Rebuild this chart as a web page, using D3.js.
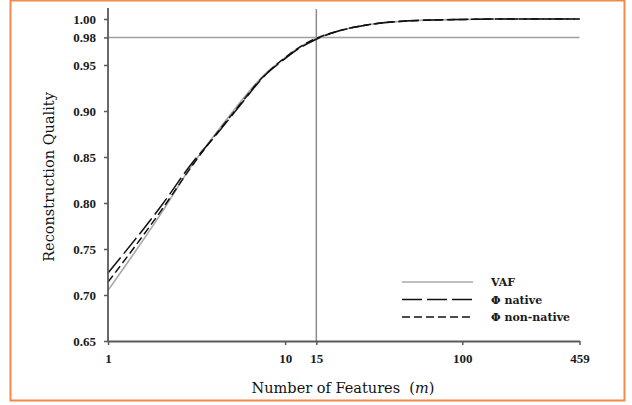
<!DOCTYPE html>
<html>
<head>
<meta charset="utf-8">
<script src="https://cdn.jsdelivr.net/npm/d3@7"></script>
<style>
  body { margin: 0; background: #fff; }
  svg { display: block; }
</style>
</head>
<body>
<div id="chart"></div>
<script>
// number of features m, and reconstruction quality for each measure
var features = [1, 2, 3, 4, 5, 6, 7, 8, 9, 10, 12, 15, 20, 30, 50, 100, 200, 459];
var vaf = [0.705, 0.789, 0.842, 0.874, 0.898, 0.917, 0.932, 0.943, 0.951, 0.958, 0.969, 0.979, 0.987, 0.994, 0.998, 0.9995, 1.0, 1.0];
var phiNative = [0.724, 0.797, 0.844, 0.872, 0.895, 0.914, 0.930, 0.942, 0.950, 0.957, 0.968, 0.978, 0.987, 0.994, 0.998, 0.9995, 1.0, 1.0];
var phiNonNative = [0.714, 0.792, 0.841, 0.873, 0.896, 0.915, 0.931, 0.942, 0.951, 0.958, 0.969, 0.979, 0.987, 0.994, 0.998, 0.9995, 1.0, 1.0];

var xTicks = [1, 10, 15, 100, 459];
var yTicks = [0.65, 0.70, 0.75, 0.80, 0.85, 0.90, 0.95, 0.98, 1.00];
var cutX = 15, cutY = 0.98;

var seriesNames = ["VAF", "\u03A6 native", "\u03A6 non-native"];
var seriesValues = [vaf, phiNative, phiNonNative];

var width = 632, height = 405;

var svg = d3.select("#chart").append("svg")
    .attr("width", width)
    .attr("height", height);

// orange frame
svg.append("rect")
    .attr("x", 10.5).attr("y", 0.5)
    .attr("width", 614).attr("height", 400)
    .attr("fill", "#fff")
    .attr("stroke", "#ef8a4a")
    .attr("stroke-width", 2);

var x = d3.scaleLog().domain([1, 459]).range([108, 579.5]);
var y = d3.scaleLinear().domain([0.65, 1.0]).range([341, 19]);

var styles = [
    { stroke: "#a8a8a8", dash: null, w: 1.6 },
    { stroke: "#111", dash: "20,5", w: 1.5 },
    { stroke: "#111", dash: "8,4", w: 1.5 }
];

// reference lines at m = 15 and quality = 0.98
svg.append("line")
    .attr("x1", x(cutX)).attr("x2", x(cutX))
    .attr("y1", 9).attr("y2", y(0.65))
    .attr("stroke", "#8c8c8c").attr("stroke-width", 1.5);
svg.append("line")
    .attr("x1", x(1)).attr("x2", x(459))
    .attr("y1", y(cutY)).attr("y2", y(cutY))
    .attr("stroke", "#a0a0a0").attr("stroke-width", 1.5);

// curves
var line = d3.line()
    .x(function (d) { return x(d.m); })
    .y(function (d) { return y(d.v); })
    .curve(d3.curveMonotoneX);

seriesValues.forEach(function (vals, i) {
    var pts = features.map(function (m, j) { return { m: m, v: vals[j] }; });
    svg.append("path")
        .datum(pts)
        .attr("d", line)
        .attr("fill", "none")
        .attr("stroke", styles[i].stroke)
        .attr("stroke-width", styles[i].w)
        .attr("stroke-dasharray", styles[i].dash);
});

// axes
var xAxis = svg.append("g")
    .attr("transform", "translate(0," + y(0.65) + ")")
    .call(d3.axisBottom(x).tickValues(xTicks).tickFormat(d3.format("d")).tickSize(4).tickSizeOuter(0));
var yAxis = svg.append("g")
    .attr("transform", "translate(" + x(1) + ",0)")
    .call(d3.axisLeft(y).tickValues(yTicks).tickFormat(d3.format(".2f")).tickSize(4).tickSizeOuter(0));

// stretch y axis line above 1.00
yAxis.select(".domain").attr("d", "M0,8V" + y(0.65));

[xAxis, yAxis].forEach(function (a) {
    a.select(".domain").attr("stroke", "#5a5a5a").attr("stroke-width", 1.8);
    a.selectAll(".tick line").attr("stroke", "#5a5a5a").attr("stroke-width", 1.5);
    a.selectAll(".tick text")
        .attr("fill", "#1a1a1a")
        .style("font-family", "'Liberation Serif', serif")
        .style("font-weight", "bold")
        .style("font-size", "13px");
});
xAxis.selectAll(".tick text").attr("y", 13);
yAxis.selectAll(".tick text").attr("x", -12);

// axis titles
svg.append("text")
    .attr("transform", "translate(54,177) rotate(-90)")
    .attr("text-anchor", "middle")
    .style("font-family", "'DejaVu Serif', serif")
    .style("font-size", "14.5px")
    .attr("fill", "#111")
    .text("Reconstruction Quality");

var xt = svg.append("text")
    .attr("x", 343).attr("y", 393)
    .attr("text-anchor", "middle")
    .style("font-family", "'DejaVu Serif', serif")
    .style("font-size", "14.5px")
    .attr("fill", "#111")
    .attr("xml:space", "preserve");
xt.append("tspan").text("Number of Features  (");
xt.append("tspan").style("font-style", "italic").text("m");
xt.append("tspan").text(")");

// legend
var legend = svg.append("g");
seriesNames.forEach(function (name, i) {
    var ly = 282 + i * 17.5;
    legend.append("line")
        .attr("x1", 402).attr("x2", 473)
        .attr("y1", ly).attr("y2", ly)
        .attr("stroke", styles[i].stroke)
        .attr("stroke-width", styles[i].w)
        .attr("stroke-dasharray", styles[i].dash);
    legend.append("text")
        .attr("x", 491).attr("y", ly + 4)
        .style("font-family", "'DejaVu Serif', serif")
        .style("font-size", "11px")
        .style("font-weight", "bold")
        .attr("fill", "#1a1a1a")
        .text(name);
});
</script>
</body>
</html>
